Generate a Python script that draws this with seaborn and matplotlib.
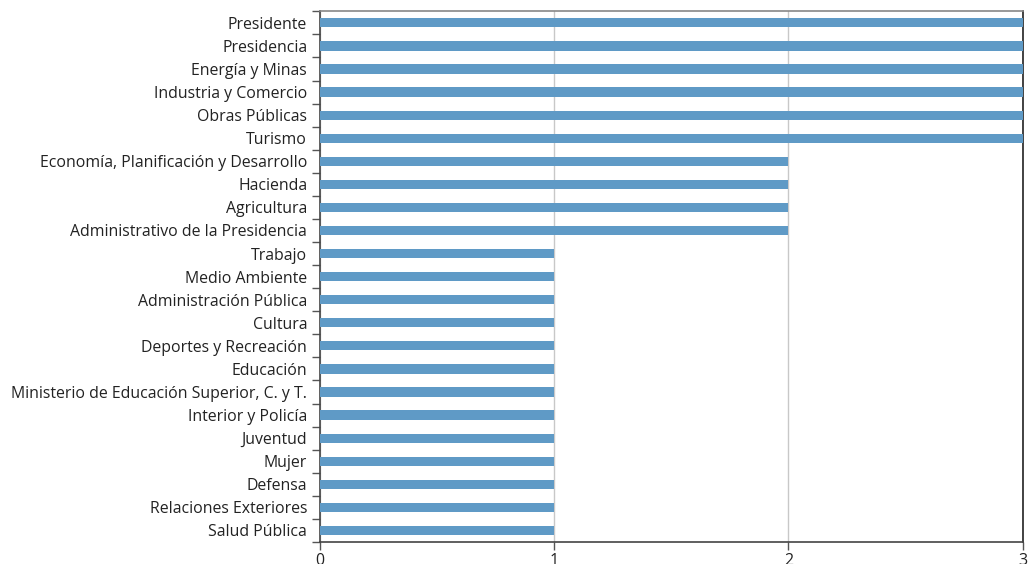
import numpy as np
import pandas as pd
import matplotlib
matplotlib.use('Agg')
import matplotlib.pyplot as plt
import seaborn as sns

instituciones = [
    'Presidente', 'Presidencia', 'Energía y Minas', 'Industria y Comercio',
    'Obras Públicas', 'Turismo', 'Economía, Planificación y Desarrollo',
    'Hacienda', 'Agricultura', 'Administrativo de la Presidencia', 'Trabajo',
    'Medio Ambiente', 'Administración Pública', 'Cultura',
    'Deportes y Recreación', 'Educación',
    'Ministerio de Educación Superior, C. y T.', 'Interior y Policía',
    'Juventud', 'Mujer', 'Defensa', 'Relaciones Exteriores', 'Salud Pública',
]
valores = [3, 3, 3, 3, 3, 3, 2, 2, 2, 2, 1, 1, 1, 1, 1, 1, 1, 1, 1, 1, 1, 1, 1]
xticks = [0, 1, 2, 3]

df = pd.DataFrame({'institucion': instituciones, 'valor': valores})

sns.set_style('white')
plt.rcParams['font.family'] = ['Open Sans', 'DejaVu Sans']

fig = plt.figure(figsize=(10.28, 5.64), dpi=100)
ax = fig.add_axes([0.311, 0.039, 0.684, 0.941])

sns.barplot(data=df, x='valor', y='institucion', orient='h', color='#5f9ac6',
            width=0.4, saturation=1, linewidth=0, ax=ax, zorder=3)

ax.set_xlim(0, 3)
ax.set_ylim(len(instituciones) - 0.5, -0.5)
ax.set_xticks(xticks)
ax.set_xticklabels([str(t) for t in xticks], fontsize=11.5, color='#222222')
ax.xaxis.grid(True, color='#c8c8c8', linewidth=1, zorder=0)
ax.yaxis.grid(False)
ax.set_xlabel('')
ax.set_ylabel('')

ax.tick_params(axis='y', which='major', left=True, length=0, labelsize=11.4,
               labelcolor='#222222', pad=9)
ax.set_yticks(np.arange(-0.5, len(instituciones), 1), minor=True)
ax.tick_params(axis='y', which='minor', left=True, length=6, width=1,
               color='#555555', direction='out')
ax.tick_params(axis='x', which='major', bottom=True, length=6, width=1,
               color='#555555', direction='out', pad=2)

for s in ['left', 'bottom', 'right']:
    ax.spines[s].set_visible(True)
    ax.spines[s].set_color('#444444')
    ax.spines[s].set_linewidth(1.2)
ax.spines['top'].set_color('#888888')
ax.spines['top'].set_linewidth(1.2)
ax.spines['right'].set_color('#222222')

fig.savefig('out.png', dpi=100)
